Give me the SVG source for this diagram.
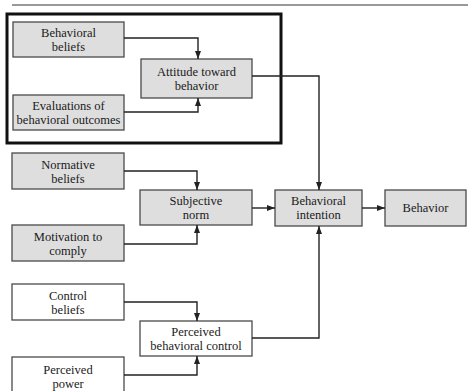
<svg xmlns="http://www.w3.org/2000/svg" width="468" height="391" viewBox="0 0 468 391">
  <defs>
    <marker id="arr" viewBox="0 0 8 6" refX="8" refY="3" markerWidth="8" markerHeight="6" markerUnits="userSpaceOnUse" orient="auto">
      <path d="M0,0 L8,3 L0,6 Z" fill="#222"/>
    </marker>
  </defs>
  <style>
    .box { stroke: #4a4a4a; stroke-width: 1.3; }
    .shaded { fill: #dedede; }
    .plain { fill: #ffffff; }
    .lbl { font-family: "Liberation Serif", "Times New Roman", serif; font-size: 12.5px; fill: #1a1a1a; text-anchor: middle; }
    .wire { fill: none; stroke: #222; stroke-width: 1.4; }
  </style>
  <rect width="468" height="391" fill="#ffffff"/>

  <!-- rule along the top -->
  <line x1="12" y1="5" x2="468" y2="5" stroke="#777" stroke-width="1.5"/>

  <!-- highlighted frame round the attitude component -->
  <rect id="attitude-frame" x="7" y="14" width="274" height="129" fill="none" stroke="#111" stroke-width="3"/>

  <g id="behavioral-beliefs">
    <rect class="box shaded" x="13" y="22" width="111" height="35"/>
    <text class="lbl" x="68.5" y="37">Behavioral</text>
    <text class="lbl" x="68.5" y="51">beliefs</text>
  </g>
  <g id="evaluations">
    <rect class="box shaded" x="13" y="95" width="111" height="35"/>
    <text class="lbl" x="68.5" y="110">Evaluations of</text>
    <text class="lbl" x="68.5" y="124">behavioral outcomes</text>
  </g>
  <g id="attitude">
    <rect class="box shaded" x="141" y="59" width="111" height="39"/>
    <text class="lbl" x="196.5" y="76">Attitude toward</text>
    <text class="lbl" x="196.5" y="90">behavior</text>
  </g>

  <g id="normative-beliefs">
    <rect class="box shaded" x="12" y="153" width="112" height="36"/>
    <text class="lbl" x="68" y="169">Normative</text>
    <text class="lbl" x="68" y="183">beliefs</text>
  </g>
  <g id="motivation">
    <rect class="box shaded" x="12" y="225" width="112" height="36"/>
    <text class="lbl" x="68" y="241">Motivation to</text>
    <text class="lbl" x="68" y="255">comply</text>
  </g>
  <g id="subjective-norm">
    <rect class="box shaded" x="140" y="190" width="112" height="35"/>
    <text class="lbl" x="196" y="205">Subjective</text>
    <text class="lbl" x="196" y="219">norm</text>
  </g>

  <g id="intention">
    <rect class="box shaded" x="275" y="190" width="87" height="36"/>
    <text class="lbl" x="318.5" y="205">Behavioral</text>
    <text class="lbl" x="318.5" y="219">intention</text>
  </g>
  <g id="behavior">
    <rect class="box shaded" x="385" y="190" width="81" height="36"/>
    <text class="lbl" x="425.5" y="212">Behavior</text>
  </g>

  <g id="control-beliefs">
    <rect class="box plain" x="12" y="284" width="112" height="36"/>
    <text class="lbl" x="68" y="300">Control</text>
    <text class="lbl" x="68" y="314">beliefs</text>
  </g>
  <g id="perceived-control">
    <rect class="box plain" x="140" y="321" width="112" height="35"/>
    <text class="lbl" x="196" y="336">Perceived</text>
    <text class="lbl" x="196" y="350">behavioral control</text>
  </g>
  <g id="perceived-power">
    <rect class="box plain" x="12" y="357" width="112" height="40"/>
    <text class="lbl" x="68" y="374">Perceived</text>
    <text class="lbl" x="68" y="388">power</text>
  </g>

  <g id="connectors">
    <polyline class="wire" points="124,38 198,38 198,59" marker-end="url(#arr)"/>
    <polyline class="wire" points="124,112 198,112 198,98" marker-end="url(#arr)"/>
    <polyline class="wire" points="124,171 197,171 197,190" marker-end="url(#arr)"/>
    <polyline class="wire" points="124,244 197,244 197,225" marker-end="url(#arr)"/>
    <polyline class="wire" points="124,302 197,302 197,321" marker-end="url(#arr)"/>
    <polyline class="wire" points="124,375 197,375 197,356" marker-end="url(#arr)"/>
    <polyline class="wire" points="252,76 319,76 319,190" marker-end="url(#arr)"/>
    <polyline class="wire" points="252,338 319,338 319,226" marker-end="url(#arr)"/>
    <line class="wire" x1="252" y1="208" x2="275" y2="208" marker-end="url(#arr)"/>
    <line class="wire" x1="362" y1="208" x2="385" y2="208" marker-end="url(#arr)"/>
  </g>
</svg>
